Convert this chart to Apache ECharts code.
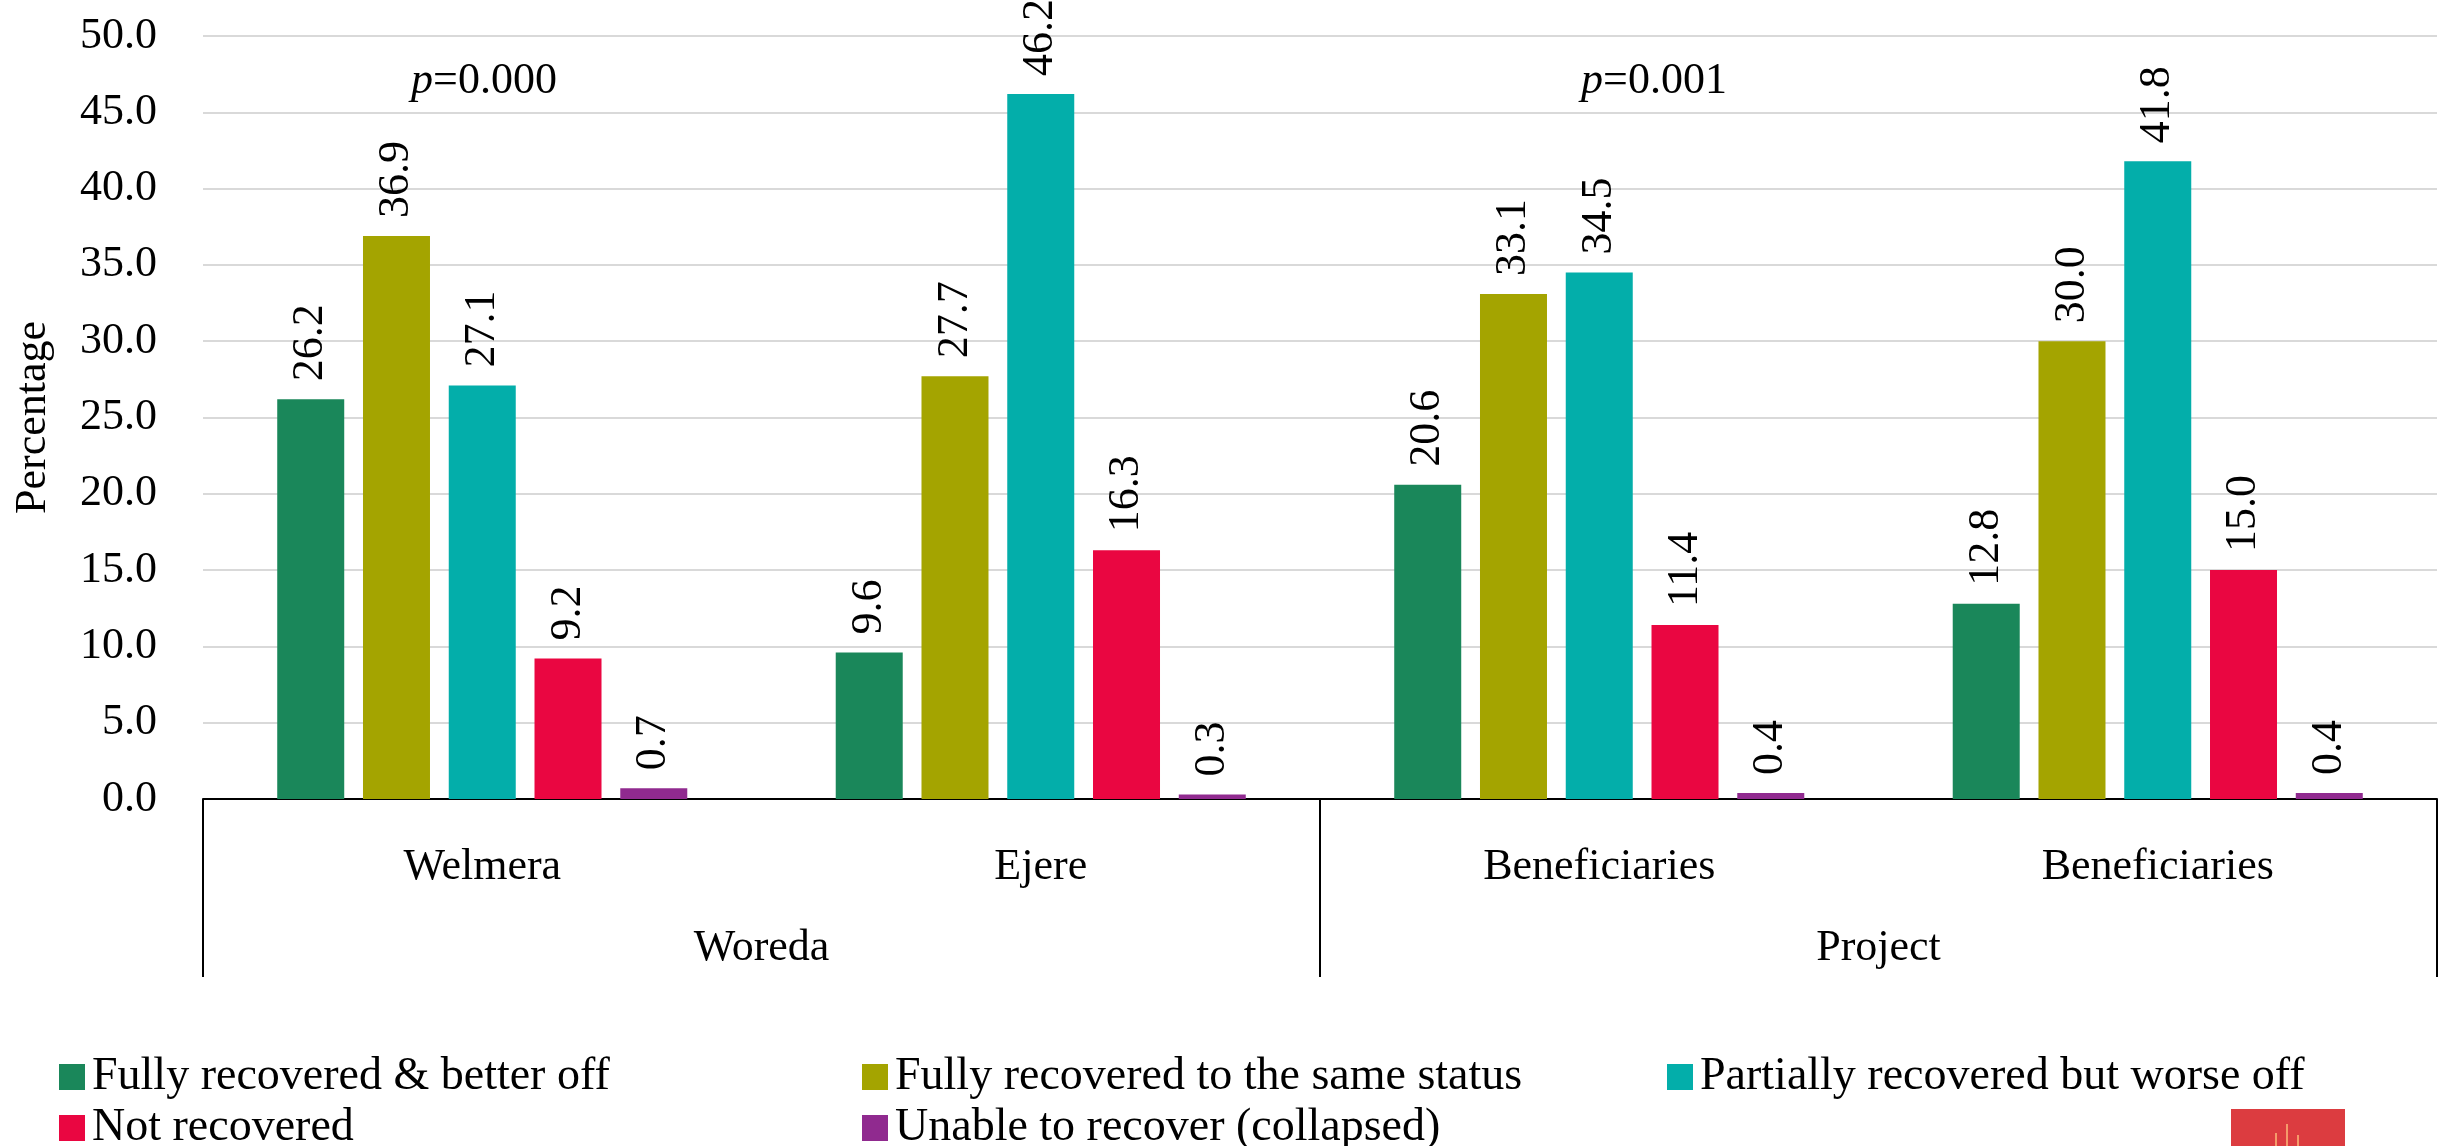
<!DOCTYPE html>
<html>
<head>
<meta charset="utf-8">
<script src="https://cdn.jsdelivr.net/npm/echarts@6/dist/echarts.min.js"></script>
<style>
html,body{margin:0;padding:0;background:#fff;}
#chart{width:2441px;height:1146px;}
</style>
</head>
<body>
<div id="chart"></div>
<script>
// ---- data ----
const categories = ['Welmera', 'Ejere', 'Beneficiaries', 'Beneficiaries'];
const groups = ['Woreda', 'Project'];
const seriesNames = [
  'Fully recovered & better off',
  'Fully recovered to the same status',
  'Partially recovered but worse off',
  'Not recovered',
  'Unable to recover (collapsed)'
];
const fullyBetter = [26.2, 9.6, 20.6, 12.8];
const fullySame = [36.9, 27.7, 33.1, 30.0];
const partially = [27.1, 46.2, 34.5, 41.8];
const notRecovered = [9.2, 16.3, 11.4, 15.0];
const unable = [0.7, 0.3, 0.4, 0.4];
const pValues = ['0.000', '0.001'];
const yTicks = { min: 0, max: 50, interval: 5 };

// ---- style ----
const FONT = '"Palatino Linotype","Book Antiqua",Palatino,"Liberation Serif","DejaVu Serif",serif';
const FS = 44;
const LFS = 46;
const colors = ['#1a875a', '#a4a400', '#03aeaa', '#ea0641', '#902a8f'];
const values = [fullyBetter, fullySame, partially, notRecovered, unable];

const chart = echarts.init(document.getElementById('chart'), null, { renderer: 'canvas' });

const series = seriesNames.map((name, i) => ({
  name: name,
  type: 'bar',
  xAxisIndex: 0,
  data: values[i],
  barWidth: 67,
  barGap: '28%',
  itemStyle: { color: colors[i] },
  label: {
    show: true,
    position: 'top',
    rotate: 90,
    align: 'left',
    verticalAlign: 'middle',
    distance: 18,
    fontFamily: FONT,
    fontSize: FS,
    color: '#000',
    formatter: p => p.value.toFixed(1)
  }
}));

// legend slots: [series index, left, row]
const legendSlots = [[0, 54, 0], [1, 857, 0], [2, 1662, 0], [3, 54, 1], [4, 857, 1]];
const rowCenters = [1072, 1123];
const legends = legendSlots.map(([si, x, row]) => ({
  orient: 'horizontal',
  left: x,
  top: rowCenters[row] - 25,
  itemWidth: 26,
  itemHeight: 26,
  itemGap: 10,
  icon: 'rect',
  textStyle: { fontFamily: FONT, fontSize: LFS, color: '#000', lineHeight: 50, padding: [0, 0, 0, 2] },
  data: [seriesNames[si]],
  selectedMode: false
}));

function pText(x, val) {
  return {
    type: 'text', x: x, y: 81,
    style: {
      text: '{i|p}{n|=' + val + '}',
      align: 'center', verticalAlign: 'middle',
      fill: '#000',
      rich: {
        i: { fontStyle: 'italic', fontFamily: FONT, fontSize: FS, fill: '#000' },
        n: { fontFamily: FONT, fontSize: FS, fill: '#000' }
      }
    }
  };
}

const option = {
  backgroundColor: '#fff',
  animation: false,
  grid: { left: 203, right: 4, top: 36, bottom: 347, containLabel: false },
  legend: legends,
  xAxis: [
    {
      type: 'category',
      data: categories,
      position: 'bottom',
      axisLine: { show: true, lineStyle: { color: '#000', width: 2 } },
      axisTick: { show: false },
      axisLabel: { margin: 46, fontFamily: FONT, fontSize: FS, color: '#000', interval: 0 },
      splitLine: { show: false }
    },
    {
      type: 'category',
      data: groups,
      position: 'bottom',
      axisLine: { show: false },
      axisTick: { show: true, length: 178, lineStyle: { color: '#000', width: 2 } },
      axisLabel: { margin: 127, fontFamily: FONT, fontSize: FS, color: '#000', interval: 0 },
      splitLine: { show: false }
    }
  ],
  yAxis: {
    type: 'value',
    min: yTicks.min,
    max: yTicks.max,
    interval: yTicks.interval,
    name: 'Percentage',
    nameLocation: 'middle',
    nameGap: 148,
    nameTextStyle: { fontFamily: FONT, fontSize: FS, color: '#000' },
    axisLine: { show: false },
    axisTick: { show: false },
    axisLabel: { margin: 46, fontFamily: FONT, fontSize: FS, color: '#000', formatter: v => v.toFixed(1) },
    splitLine: { show: true, lineStyle: { color: '#d9d9d9', width: 2 } }
  },
  series: series,
  graphic: [
    pText(484, pValues[0]),
    pText(1654, pValues[1]),
    { type: 'rect', shape: { x: 2231, y: 1109, width: 114, height: 40 }, style: { fill: '#dc3c40' } },
    { type: 'line', shape: { x1: 2287, y1: 1124, x2: 2287, y2: 1146 }, style: { stroke: '#f59a6a', lineWidth: 2 } },
    { type: 'line', shape: { x1: 2276, y1: 1133, x2: 2276, y2: 1146 }, style: { stroke: '#f59a6a', lineWidth: 2 } },
    { type: 'line', shape: { x1: 2298, y1: 1135, x2: 2298, y2: 1146 }, style: { stroke: '#f59a6a', lineWidth: 2 } }
  ]
};
chart.setOption(option);
</script>
</body>
</html>
